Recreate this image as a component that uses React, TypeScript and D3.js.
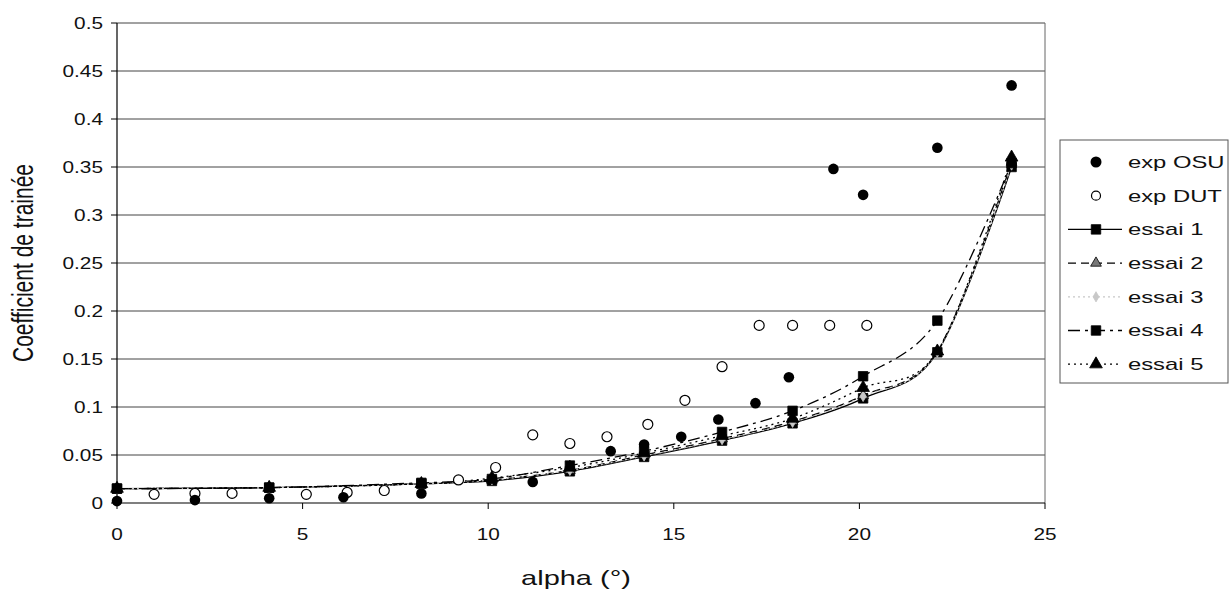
import React from 'react';
import * as d3 from 'd3';

// alpha values (deg) and drag coefficients
const osuAlpha = [0, 2.1, 4.1, 6.1, 8.2, 11.2, 13.3, 14.2, 15.2, 16.2, 17.2, 18.1, 19.3, 20.1, 22.1, 24.1];
const osuCd = [0.002, 0.003, 0.005, 0.006, 0.01, 0.022, 0.054, 0.061, 0.069, 0.087, 0.104, 0.131, 0.348, 0.321, 0.37, 0.435];

const dutAlpha = [1.0, 2.1, 3.1, 5.1, 6.2, 7.2, 9.2, 10.2, 11.2, 12.2, 13.2, 14.3, 15.3, 16.3, 17.3, 18.2, 19.2, 20.2];
const dutCd = [0.009, 0.01, 0.01, 0.009, 0.011, 0.013, 0.024, 0.037, 0.071, 0.062, 0.069, 0.082, 0.107, 0.142, 0.185, 0.185, 0.185, 0.185];

const essaiAlpha = [0, 4.1, 8.2, 10.1, 12.2, 14.2, 16.3, 18.2, 20.1, 22.1, 24.1];
const essai1 = [0.015, 0.016, 0.02, 0.023, 0.033, 0.048, 0.065, 0.083, 0.109, 0.157, 0.35];
const essai2 = [0.015, 0.016, 0.02, 0.024, 0.034, 0.05, 0.067, 0.085, 0.112, 0.158, 0.355];
const essai3 = [0.015, 0.016, 0.02, 0.024, 0.034, 0.049, 0.066, 0.084, 0.111, 0.157, 0.352];
const essai4 = [0.015, 0.016, 0.021, 0.025, 0.039, 0.054, 0.074, 0.096, 0.132, 0.19, 0.354];
const essai5 = [0.015, 0.016, 0.02, 0.026, 0.037, 0.052, 0.07, 0.088, 0.12, 0.158, 0.36];

const xTicks = [0, 5, 10, 15, 20, 25];
const yTicks = [0, 0.05, 0.1, 0.15, 0.2, 0.25, 0.3, 0.35, 0.4, 0.45, 0.5];

type Essai = { name: string; values: number[]; dash: string; color: string; marker: string; markerFill: string; size: number };

const essais: Essai[] = [
  { name: 'essai 1', values: essai1, dash: '', color: '#000', marker: 'square', markerFill: '#000', size: 90 },
  { name: 'essai 2', values: essai2, dash: '8,5', color: '#000', marker: 'triangle', markerFill: '#777', size: 50 },
  { name: 'essai 3', values: essai3, dash: '2,3', color: '#c8c8c8', marker: 'diamond', markerFill: '#c8c8c8', size: 30 },
  { name: 'essai 4', values: essai4, dash: '12,5,3,5', color: '#000', marker: 'square', markerFill: '#000', size: 90 },
  { name: 'essai 5', values: essai5, dash: '2,4', color: '#000', marker: 'triangle', markerFill: '#000', size: 70 },
];

const W = 1230;
const H = 594;
const left = 117;
const right = 1045;
const top = 23;
const bottom = 503;

const FONT = '"Liberation Sans", Arial, sans-serif';
// the scan is stretched horizontally, so text is widened to match
const SX = 1.38;

function symbolPath(kind: string, size: number) {
  const t = kind === 'square' ? d3.symbolSquare : kind === 'triangle' ? d3.symbolTriangle : d3.symbolDiamond;
  return d3.symbol().type(t).size(size)() as string;
}

function WideText(props: { x: number; y: number; anchor?: string; size: number; sx?: number; children: React.ReactNode }) {
  return (
    <g transform={`translate(${props.x},${props.y}) scale(${props.sx ?? SX},1)`}>
      <text dy="0.35em" textAnchor={props.anchor ?? 'start'} fontSize={props.size} fill="#111">
        {props.children}
      </text>
    </g>
  );
}

export default function App() {
  const x = d3.scaleLinear().domain([0, 25]).range([left, right]);
  const y = d3.scaleLinear().domain([0, 0.5]).range([bottom, top]);

  const line = d3
    .line<number>()
    .x((_, i) => x(essaiAlpha[i]))
    .y((d) => y(d))
    .curve(d3.curveCardinal.tension(0));

  const legendItems = ['exp OSU', 'exp DUT', ...essais.map((e) => e.name)];
  const legX = 1060;
  const legY = 140;
  const rowH = 33.7;

  return (
    <svg width={W} height={H} style={{ position: 'absolute', left: 0, top: 0, background: '#fff' }} fontFamily={FONT}>
      {/* grid lines */}
      {yTicks.slice(1).map((t) => (
        <line key={'g' + t} x1={left} x2={right} y1={y(t)} y2={y(t)} stroke="#444" strokeWidth={1} />
      ))}
      {/* right border */}
      <line x1={right} x2={right} y1={top} y2={bottom} stroke="#666" strokeWidth={1} />
      {/* axes */}
      <line x1={left} x2={left} y1={top} y2={bottom} stroke="#000" strokeWidth={1.2} />
      <line x1={left} x2={right} y1={bottom} y2={bottom} stroke="#000" strokeWidth={1.2} />
      {yTicks.map((t) => (
        <g key={'y' + t}>
          <line x1={left - 6} x2={left} y1={y(t)} y2={y(t)} stroke="#000" />
          <WideText x={left - 14} y={y(t)} anchor="end" size={16} sx={1.3}>
            {t}
          </WideText>
        </g>
      ))}
      {xTicks.map((t) => (
        <g key={'x' + t}>
          <line x1={x(t)} x2={x(t)} y1={bottom} y2={bottom + 6} stroke="#000" />
          <WideText x={x(t)} y={bottom + 31} anchor="middle" size={16} sx={1.3}>
            {t}
          </WideText>
        </g>
      ))}
      <g transform={`translate(576,585) scale(${SX},1)`}>
        <text textAnchor="middle" fontSize={21} fill="#111">
          alpha (°)
        </text>
      </g>
      <g transform={`translate(33,263) rotate(-90) scale(1,${SX})`}>
        <text textAnchor="middle" fontSize={21} fill="#111">
          Coefficient de trainée
        </text>
      </g>

      {/* essai curves */}
      {essais.map((e) => (
        <path key={e.name} d={line(e.values) as string} fill="none" stroke={e.color} strokeWidth={1.3} strokeDasharray={e.dash} />
      ))}
      {essais.map((e) =>
        e.values.map((v, i) => (
          <path
            key={e.name + i}
            d={symbolPath(e.marker, e.size)}
            transform={`translate(${x(essaiAlpha[i])},${y(v)})`}
            fill={e.markerFill}
            stroke={e.color}
            strokeWidth={0.8}
          />
        ))
      )}

      {/* experiments */}
      {dutAlpha.map((a, i) => (
        <circle key={'d' + i} cx={x(a)} cy={y(dutCd[i])} r={5} fill="#fff" stroke="#000" strokeWidth={1.2} />
      ))}
      {osuAlpha.map((a, i) => (
        <circle key={'o' + i} cx={x(a)} cy={y(osuCd[i])} r={5.3} fill="#000" />
      ))}

      {/* legend */}
      <rect x={legX} y={legY} width={168} height={243} fill="#fff" stroke="#555" strokeWidth={1} />
      {legendItems.map((name, i) => {
        const cy = legY + 22 + i * rowH;
        const mx = 1096;
        let mark: React.ReactNode = null;
        if (i === 0) mark = <circle cx={mx} cy={cy} r={5.5} fill="#000" />;
        else if (i === 1) mark = <circle cx={mx} cy={cy} r={4.5} fill="#fff" stroke="#000" strokeWidth={1.2} />;
        else {
          const e = essais[i - 2];
          mark = (
            <g>
              <line x1={1068} x2={1122} y1={cy} y2={cy} stroke={e.color} strokeWidth={1.3} strokeDasharray={e.dash} />
              <path d={symbolPath(e.marker, e.size)} transform={`translate(${mx},${cy})`} fill={e.markerFill} stroke={e.color} strokeWidth={0.8} />
            </g>
          );
        }
        return (
          <g key={name}>
            {mark}
            <WideText x={1128} y={cy} size={17} sx={1.4}>
              {name}
            </WideText>
          </g>
        );
      })}
    </svg>
  );
}
